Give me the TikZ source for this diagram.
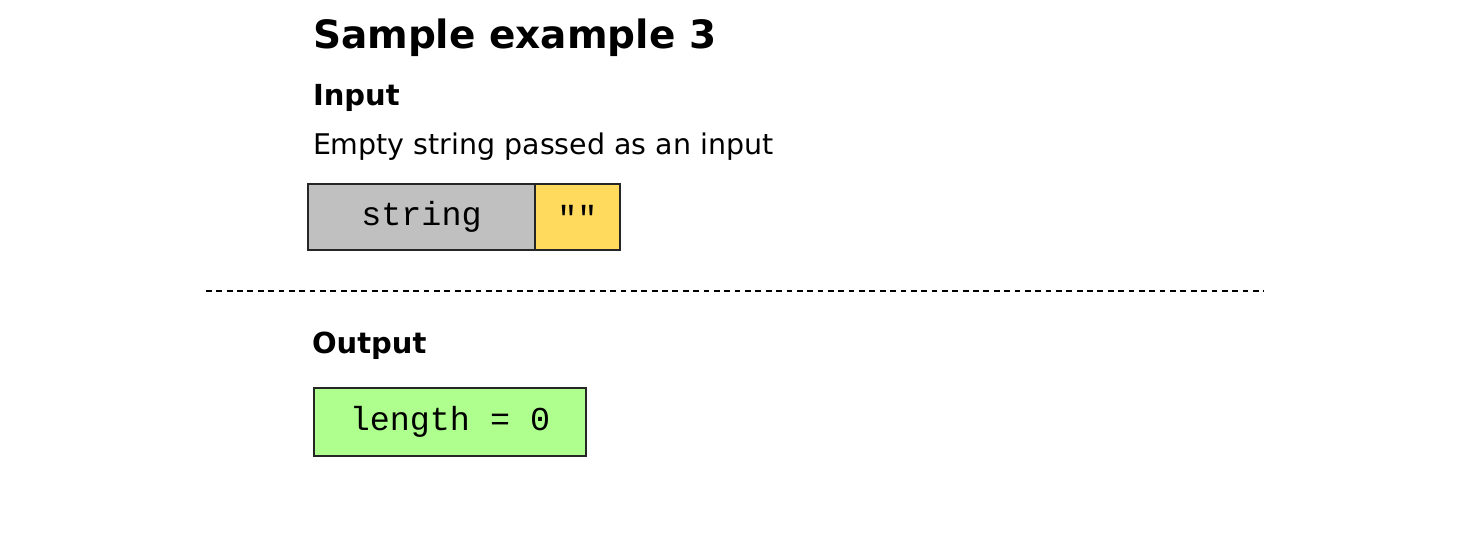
\documentclass[tikz,border=0pt]{standalone}
\usepackage{fontspec}
\setmainfont{DejaVu Sans}
\setmonofont{Liberation Mono}
\usetikzlibrary{positioning}
\definecolor{cellgray}{RGB}{192,192,192}
\definecolor{cellyellow}{RGB}{255,218,92}
\definecolor{cellgreen}{RGB}{174,255,142}
\begin{document}
\begin{tikzpicture}[
  x=0.02cm,y=-0.02cm,
  every node/.style={inner sep=0pt,outer sep=0pt},
  ttl/.style={anchor=base west,font=\fontsize{22.2}{27}\selectfont\bfseries},
  hd/.style={anchor=base west,font=\fontsize{16.5}{19}\selectfont\bfseries},
  txt/.style={anchor=base west,font=\fontsize{16.2}{19}\selectfont},
  cell/.style={draw=black!85,line width=0.9pt,minimum height=1.32cm,
    align=center,font=\ttfamily\fontsize{19}{22}\selectfont},
  sep/.style={dash pattern=on 3.3pt off 2.6pt,line width=0.6pt},
]
\useasboundingbox (0,0) rectangle (1474,560);
\node[ttl](T)at(313,49){Sample example 3};
\node[hd](I)at(313,106){Input};
\node[txt](D)at(313,155){Empty string passed as an input};

\node[cell,fill=cellgray,minimum width=4.54cm,anchor=north west](S)
  at(308,184){string};
\node[cell,fill=cellyellow,minimum width=1.70cm,anchor=west](Q)
  at(S.east){""};

\coordinate(L1)at(206,291);
\coordinate(L2)at(1264,291);
\draw[sep](L1)--(L2);

\node[hd](O)at(312,354){Output};
\node[cell,fill=cellgreen,minimum width=5.44cm,minimum height=1.36cm,
  anchor=north west](R)at(314,388){length = 0};
\end{tikzpicture}
\end{document}
